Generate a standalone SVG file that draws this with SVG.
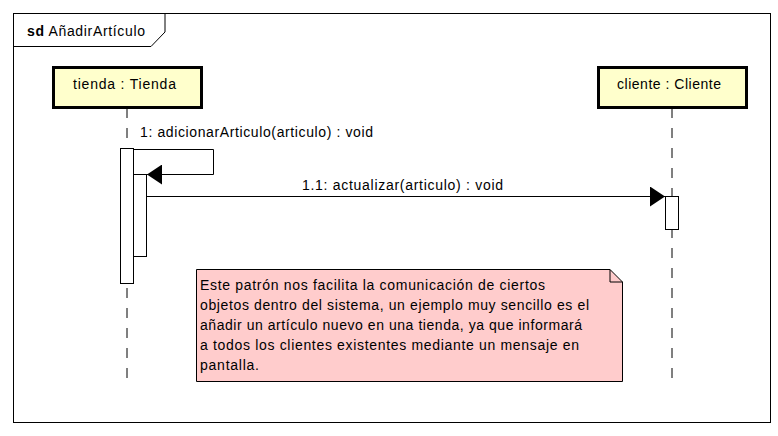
<svg xmlns="http://www.w3.org/2000/svg" width="778" height="436" viewBox="0 0 778 436">
<style>
text{font-family:"Liberation Sans",Arial,sans-serif;font-size:14px;fill:#000}
.life{stroke:#000;stroke-width:1;stroke-dasharray:10,10;fill:none}
.part{fill:#ffffcc;stroke:#000;stroke-width:3}
.act{fill:#fff;stroke:#000;stroke-width:1}
.msg{stroke:#000;stroke-width:1;fill:none}
</style>
<defs>
<marker id="arr" markerWidth="15" markerHeight="20" refX="15" refY="10" orient="auto" markerUnits="userSpaceOnUse">
<path d="M0,0 L15,10 L0,20 Z" fill="#000"/>
</marker>
</defs>
<rect width="778" height="436" fill="#fff"/>
<g id="frame">
<rect x="13.5" y="13.5" width="757" height="409" fill="none" stroke="#000" stroke-width="1"/>
<path d="M13.5,46.5 L151,46.5 L165,32 L165,13.5" fill="none" stroke="#000" stroke-width="1"/>
<text x="27" y="36" textLength="118" lengthAdjust="spacing"><tspan font-weight="bold">sd</tspan> AñadirArtículo</text>
</g>
<g id="connectors">
<line class="life" x1="127" y1="108" x2="127" y2="380"/>
<line class="life" x1="672" y1="108" x2="672" y2="380"/>
<polyline class="msg" points="133,149.5 213.5,149.5 213.5,174.5 147,174.5" marker-end="url(#arr)"/>
<line class="msg" x1="147" y1="196.5" x2="665" y2="196.5" marker-end="url(#arr)"/>
<text x="140" y="137" textLength="233" lengthAdjust="spacing">1: adicionarArticulo(articulo) : void</text>
<text x="302" y="190" textLength="201" lengthAdjust="spacing">1.1: actualizar(articulo) : void</text>
</g>
<g id="tienda">
<rect class="part" x="53.5" y="67.5" width="148" height="40"/>
<text x="73" y="89" textLength="103" lengthAdjust="spacing">tienda : Tienda</text>
<rect class="act" x="120.5" y="148.5" width="13" height="135"/>
<rect class="act" x="133.5" y="174.5" width="13" height="82"/>
</g>
<g id="cliente">
<rect class="part" x="598.5" y="67.5" width="148" height="40"/>
<text x="617" y="89" textLength="104" lengthAdjust="spacing">cliente : Cliente</text>
<rect class="act" x="665.5" y="196.5" width="13" height="33"/>
</g>
<g id="note">
<path d="M196.5,269.5 L610,269.5 L622.5,282 L622.5,381.5 L196.5,381.5 Z" fill="#ffcccc" stroke="#000" stroke-width="1"/>
<path d="M610,269.5 L610,282 L622.5,282" fill="none" stroke="#000" stroke-width="1"/>
<text x="200" y="290" textLength="345" lengthAdjust="spacing">Este patrón nos facilita la comunicación de ciertos</text>
<text x="200" y="310" textLength="389" lengthAdjust="spacing">objetos dentro del sistema, un ejemplo muy sencillo es el</text>
<text x="200" y="330" textLength="382" lengthAdjust="spacing">añadir un artículo nuevo en una tienda, ya que informará</text>
<text x="200" y="350" textLength="379" lengthAdjust="spacing">a todos los clientes existentes mediante un mensaje en</text>
<text x="200" y="370" textLength="59" lengthAdjust="spacing">pantalla.</text>
</g>
</svg>
